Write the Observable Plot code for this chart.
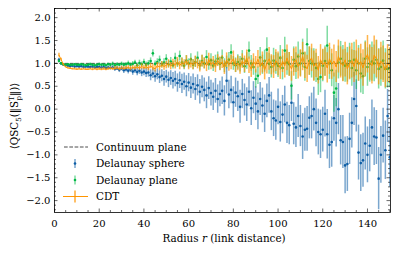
<!DOCTYPE html>
<html><head><meta charset="utf-8">
<script src="https://cdn.jsdelivr.net/npm/d3@7"></script>
<script src="https://cdn.jsdelivr.net/npm/@observablehq/plot@0.6"></script>
<style>body{margin:0;background:#fff} svg{display:block}</style>
</head><body><div id="chart"></div><script>
// Radius values (link distance)
const radius = d3.range(2, 151);

// Delaunay sphere
const sphereMean = [
 1.08,1.00,0.97,0.96,0.95,0.94,0.95,0.93,0.94,0.93,
 0.94,0.92,0.93,0.93,0.92,0.93,0.91,0.92,0.92,0.91,
 0.92,0.90,0.91,0.90,0.91,0.88,0.89,0.86,0.89,0.85,
 0.87,0.84,0.86,0.82,0.85,0.81,0.84,0.80,0.82,0.79,
 0.80,0.74,0.78,0.72,0.76,0.70,0.73,0.66,0.71,0.64,
 0.68,0.62,0.66,0.57,0.63,0.55,0.60,0.50,0.58,0.47,
 0.55,0.44,0.52,0.38,0.49,0.42,0.30,0.46,0.35,0.27,
 0.40,0.22,0.33,0.40,0.18,0.62,0.32,0.42,0.15,0.36,
 0.28,0.05,0.33,0.20,0.10,0.38,0.02,0.25,0.12,-0.05,
 0.22,0.08,-0.10,0.18,0.30,-0.05,-0.20,-0.25,0.05,-0.28,
 -0.12,0.10,-0.30,-0.35,0.14,-0.32,-0.40,-0.15,-0.37,-0.60,
 -0.45,-0.43,-0.19,-0.15,0.00,-0.30,-0.50,-0.55,-0.45,-0.10,
 -0.55,-0.78,-0.72,-0.20,-0.30,0.00,-0.68,-0.72,-1.23,-1.20,
 -0.65,-0.30,0.22,0.07,-0.95,-1.18,-1.12,-0.75,-1.00,-0.80,
 -0.40,-0.60,-0.62,-1.52,-1.00,-0.58,-0.90,-0.15,-1.05];
const sphereErr = [
 0.03,0.02,0.02,0.02,0.02,0.02,0.02,0.02,0.02,0.02,
 0.02,0.02,0.02,0.03,0.02,0.03,0.03,0.03,0.03,0.03,
 0.03,0.04,0.03,0.04,0.04,0.05,0.04,0.06,0.05,0.07,
 0.06,0.07,0.06,0.08,0.07,0.08,0.08,0.09,0.09,0.10,
 0.10,0.12,0.11,0.13,0.12,0.14,0.13,0.16,0.14,0.17,
 0.16,0.18,0.17,0.20,0.18,0.21,0.19,0.23,0.20,0.24,
 0.22,0.25,0.23,0.27,0.24,0.26,0.29,0.25,0.28,0.30,
 0.27,0.31,0.28,0.30,0.33,0.29,0.31,0.30,0.34,0.32,
 0.33,0.36,0.32,0.35,0.37,0.33,0.38,0.35,0.37,0.40,
 0.36,0.38,0.41,0.37,0.39,0.42,0.40,0.43,0.39,0.44,
 0.42,0.40,0.45,0.43,0.41,0.46,0.44,0.47,0.45,0.50,
 0.47,0.49,0.46,0.50,0.48,0.52,0.50,0.53,0.49,0.51,
 0.54,0.52,0.55,0.50,0.53,0.56,0.54,0.58,0.62,0.60,
 0.56,0.55,0.58,0.57,0.60,0.62,0.59,0.58,0.61,0.57,
 0.60,0.63,0.59,0.68,0.62,0.60,0.64,0.58,0.66];

// Delaunay plane
const planeMean = [
 1.05,1.00,0.98,0.97,0.98,0.97,0.97,0.98,0.97,0.97,
 0.98,0.97,0.96,0.97,0.98,0.97,0.96,0.97,0.98,0.97,
 0.97,0.96,0.98,0.97,0.99,0.96,0.98,0.97,0.99,0.97,
 0.98,1.00,0.97,0.99,1.02,0.96,1.01,0.98,1.03,0.97,
 1.00,1.05,1.22,0.99,1.03,1.08,0.97,1.02,1.10,0.98,
 1.04,0.96,1.12,1.00,1.16,1.02,0.95,1.06,1.00,1.09,
 0.97,1.03,1.12,0.96,1.05,1.00,1.14,0.98,1.07,0.95,
 1.04,1.10,0.99,1.13,0.95,1.02,1.08,1.24,1.00,0.96,
 1.03,0.98,1.10,0.94,1.05,1.28,1.00,0.92,0.66,0.73,
 1.13,0.97,1.05,1.30,0.99,0.92,1.06,1.00,0.95,1.12,
 0.90,1.28,1.02,0.98,0.51,1.08,0.94,1.15,1.00,1.22,
 0.92,1.42,1.05,1.00,0.97,0.90,0.66,0.70,0.95,1.05,
 1.39,1.00,0.85,0.36,0.45,1.02,1.10,1.00,0.95,0.97,
 1.05,0.90,1.08,0.85,1.00,0.78,0.72,1.10,0.92,0.99,
 1.04,1.00,1.08,0.88,0.92,1.06,0.88,0.88,0.90];
const planeErr = [
 0.03,0.02,0.02,0.02,0.02,0.02,0.02,0.02,0.02,0.02,
 0.02,0.02,0.02,0.02,0.03,0.02,0.03,0.02,0.03,0.03,
 0.03,0.03,0.03,0.03,0.04,0.03,0.04,0.03,0.04,0.04,
 0.04,0.05,0.04,0.05,0.05,0.05,0.06,0.05,0.06,0.06,
 0.06,0.07,0.08,0.06,0.07,0.08,0.07,0.08,0.09,0.08,
 0.09,0.08,0.10,0.09,0.11,0.10,0.09,0.11,0.10,0.12,
 0.11,0.12,0.13,0.11,0.13,0.12,0.14,0.13,0.14,0.13,
 0.14,0.15,0.14,0.16,0.15,0.14,0.16,0.17,0.15,0.16,
 0.16,0.17,0.18,0.16,0.18,0.19,0.17,0.18,0.20,0.19,
 0.22,0.21,0.24,0.26,0.23,0.24,0.27,0.24,0.26,0.27,
 0.26,0.29,0.28,0.26,0.31,0.28,0.29,0.32,0.28,0.31,
 0.31,0.34,0.31,0.32,0.35,0.32,0.36,0.34,0.35,0.33,
 0.42,0.35,0.36,0.43,0.40,0.36,0.38,0.39,0.36,0.38,
 0.39,0.40,0.38,0.42,0.39,0.43,0.40,0.39,0.42,0.40,
 0.43,0.40,0.42,0.44,0.42,0.43,0.44,0.42,0.43];

// CDT
const cdtMean = [
 1.18,1.08,0.97,0.92,0.90,0.89,0.88,0.88,0.87,0.88,
 0.87,0.88,0.87,0.87,0.88,0.87,0.88,0.87,0.88,0.87,
 0.88,0.87,0.88,0.89,0.88,0.89,0.90,0.88,0.90,0.89,
 0.90,0.91,0.89,0.91,0.90,0.92,0.90,0.93,0.91,0.92,
 0.90,0.94,0.91,0.88,0.95,0.92,0.97,0.93,0.96,0.99,
 0.94,1.00,0.97,1.03,0.95,1.02,0.98,1.06,0.96,1.01,
 0.97,1.04,0.99,0.93,1.05,1.00,0.95,1.08,0.98,1.02,
 0.94,1.06,0.99,1.03,0.91,1.07,0.97,1.02,1.10,0.95,
 1.00,0.93,1.05,0.98,1.12,0.96,0.88,1.04,0.97,1.09,
 0.94,1.02,0.86,1.00,1.10,0.97,0.92,1.06,0.99,0.90,
 1.05,0.95,1.12,0.98,0.88,1.02,1.08,0.93,1.00,1.15,
 0.96,0.88,1.05,1.12,0.94,1.00,0.85,1.08,0.97,1.03,
 0.90,1.10,0.98,1.05,0.92,1.15,1.02,0.95,1.08,0.88,
 1.00,1.06,0.93,1.12,0.97,1.04,0.90,1.08,1.20,1.02,
 0.95,1.18,1.10,0.92,1.05,0.98,0.85,1.00,0.95];
const cdtErr = [
 0.04,0.03,0.03,0.02,0.02,0.02,0.02,0.02,0.02,0.02,
 0.02,0.02,0.02,0.02,0.02,0.03,0.02,0.03,0.03,0.03,
 0.03,0.03,0.03,0.03,0.03,0.04,0.03,0.04,0.04,0.04,
 0.04,0.04,0.05,0.04,0.05,0.05,0.05,0.06,0.05,0.06,
 0.06,0.06,0.07,0.07,0.07,0.08,0.07,0.08,0.08,0.09,
 0.08,0.09,0.09,0.10,0.09,0.10,0.10,0.11,0.10,0.11,
 0.11,0.12,0.11,0.12,0.13,0.12,0.13,0.14,0.12,0.13,
 0.14,0.13,0.15,0.14,0.15,0.16,0.14,0.16,0.17,0.15,
 0.16,0.17,0.16,0.18,0.17,0.18,0.19,0.17,0.18,0.19,
 0.21,0.23,0.22,0.23,0.25,0.22,0.25,0.24,0.26,0.25,
 0.25,0.27,0.28,0.26,0.27,0.30,0.28,0.27,0.30,0.31,
 0.29,0.30,0.31,0.30,0.33,0.31,0.30,0.33,0.34,0.31,
 0.33,0.34,0.33,0.35,0.34,0.36,0.34,0.35,0.38,0.35,
 0.36,0.38,0.35,0.39,0.36,0.38,0.40,0.38,0.41,0.39,
 0.40,0.42,0.41,0.39,0.41,0.40,0.38,0.41,0.39];

const continuumValue = 1.0;
const xTicks = [0, 20, 40, 60, 80, 100, 120, 140];
const yTicks = [-2.0, -1.5, -1.0, -0.5, 0.0, 0.5, 1.0, 1.5, 2.0];
const legendLabels = ["Continuum plane", "Delaunay sphere", "Delaunay plane", "CDT"];

const BLUE = "#0C5DA5", GREEN = "#00B945", ORANGE = "#FF9500", DASH = "#4d4d4d";
const FONT = "'DejaVu Serif', 'Liberation Serif', serif";
const W = 398, H = 254, ML = 54, MR = 8, MT = 8, MB = 42;
const X0 = 0, X1 = 150.3, Y0 = -2.26, Y1 = 2.2;
const uX = (X1 - X0) / (W - ML - MR), uY = (Y1 - Y0) / (H - MT - MB);
const MAJ = 3.5, MIN = 2;

const mk = (m, e) => radius.map((r, i) => ({r, v: m[i], lo: m[i] - e[i], hi: m[i] + e[i]}));
const sphere = mk(sphereMean, sphereErr);
const plane = mk(planeMean, planeErr);
const cdt = mk(cdtMean, cdtErr);

const xMinor = d3.range(0, 151, 5).filter(v => v % 20 !== 0);
const yMinor = d3.range(-22, 23).filter(v => v % 5 !== 0).map(v => v / 10);
const tk = {stroke: "black", strokeWidth: 0.6};

const chart = Plot.plot({
  width: W, height: H, marginLeft: ML, marginRight: MR, marginTop: MT, marginBottom: MB,
  style: {fontFamily: FONT, fontSize: "10px", background: "white", color: "black"},
  x: {domain: [X0, X1]},
  y: {domain: [Y0, Y1]},
  marks: [
    Plot.ruleY([continuumValue], {stroke: DASH, strokeWidth: 1, strokeDasharray: "3.7,1.6"}),
    Plot.ruleX(sphere, {x: "r", y1: "lo", y2: "hi", stroke: BLUE, strokeOpacity: 0.55, strokeWidth: 1.5, clip: true}),
    Plot.dot(sphere, {x: "r", y: "v", r: 1.3, fill: BLUE, clip: true}),
    Plot.ruleX(plane, {x: "r", y1: "lo", y2: "hi", stroke: GREEN, strokeOpacity: 0.5, strokeWidth: 1.5, clip: true}),
    Plot.dot(plane, {x: "r", y: "v", r: 1.3, fill: GREEN, clip: true}),
    Plot.ruleX(cdt, {x: "r", y1: "lo", y2: "hi", stroke: ORANGE, strokeOpacity: 0.7, strokeWidth: 1.5, clip: true}),
    Plot.line(cdt, {x: "r", y: "v", stroke: ORANGE, strokeWidth: 1, clip: true}),
    // inward ticks on all four sides
    Plot.ruleX(xTicks, {x: d => d, y1: Y0, y2: Y0 + MAJ * uY, ...tk}),
    Plot.ruleX(xTicks, {x: d => d, y1: Y1, y2: Y1 - MAJ * uY, ...tk}),
    Plot.ruleX(xMinor, {x: d => d, y1: Y0, y2: Y0 + MIN * uY, ...tk}),
    Plot.ruleX(xMinor, {x: d => d, y1: Y1, y2: Y1 - MIN * uY, ...tk}),
    Plot.ruleY(yTicks, {y: d => d, x1: X0, x2: X0 + MAJ * uX, ...tk}),
    Plot.ruleY(yTicks, {y: d => d, x1: X1, x2: X1 - MAJ * uX, ...tk}),
    Plot.ruleY(yMinor, {y: d => d, x1: X0, x2: X0 + MIN * uX, ...tk}),
    Plot.ruleY(yMinor, {y: d => d, x1: X1, x2: X1 - MIN * uX, ...tk}),
    Plot.frame({stroke: "black", strokeWidth: 0.8}),
    Plot.axisX({ticks: xTicks, tickSize: 0, tickPadding: 7, label: null, fontSize: 10}),
    Plot.axisY({ticks: yTicks, tickSize: 0, tickPadding: 4, label: null, fontSize: 10,
      tickFormat: d => d.toFixed(1).replace("-", "\u2212")})
  ]
});
document.getElementById("chart").appendChild(chart);

const svg = d3.select(chart);
// Axis labels
const xl = svg.append("text").attr("x", 224).attr("y", 242).attr("text-anchor", "middle")
  .attr("font-family", FONT).attr("font-size", 10.4).attr("fill", "black");
xl.append("tspan").text("Radius ");
xl.append("tspan").attr("font-style", "italic").text("r");
xl.append("tspan").text(" (link distance)");

const yl = svg.append("text").attr("transform", "translate(18,116) rotate(-90)")
  .attr("text-anchor", "middle").attr("font-family", FONT).attr("font-size", 10.4).attr("fill", "black");
yl.append("tspan").text("\u27E8QSC");
yl.append("tspan").attr("font-size", 7).attr("dy", 2.5).text("5");
yl.append("tspan").attr("dy", -2.5).text("(\u2016S");
yl.append("tspan").attr("font-size", 7).attr("dy", -4).text("T");
yl.append("tspan").attr("font-size", 7).attr("dx", -4.3).attr("dy", 7).text("p");
yl.append("tspan").attr("dy", -3).text("\u2016)\u27E9");

// Legend
const lg = svg.append("g").attr("font-family", FONT).attr("font-size", 10.4).attr("text-anchor", "start");
const rowsY = [147, 163.5, 180, 196.5];
lg.append("line").attr("x1", 64).attr("x2", 88).attr("y1", rowsY[0]).attr("y2", rowsY[0])
  .attr("stroke", DASH).attr("stroke-width", 1).attr("stroke-dasharray", "3.7,1.6");
[[BLUE, 0.55], [GREEN, 0.5]].forEach(([c, o], i) => {
  const y = rowsY[i + 1];
  lg.append("line").attr("x1", 75).attr("x2", 75).attr("y1", y - 4.5).attr("y2", y + 4.5)
    .attr("stroke", c).attr("stroke-opacity", o).attr("stroke-width", 1.5);
  lg.append("circle").attr("cx", 75).attr("cy", y).attr("r", 1.3).attr("fill", c);
});
lg.append("line").attr("x1", 63).attr("x2", 88).attr("y1", rowsY[3]).attr("y2", rowsY[3])
  .attr("stroke", ORANGE).attr("stroke-width", 1);
lg.append("line").attr("x1", 75).attr("x2", 75).attr("y1", rowsY[3] - 6).attr("y2", rowsY[3] + 6)
  .attr("stroke", ORANGE).attr("stroke-opacity", 0.8).attr("stroke-width", 1.5);
legendLabels.forEach((t, i) => {
  lg.append("text").attr("x", 96).attr("y", rowsY[i]).attr("dy", "0.35em")
    .attr("text-anchor", "start").attr("fill", "black").text(t);
});
</script></body></html>
